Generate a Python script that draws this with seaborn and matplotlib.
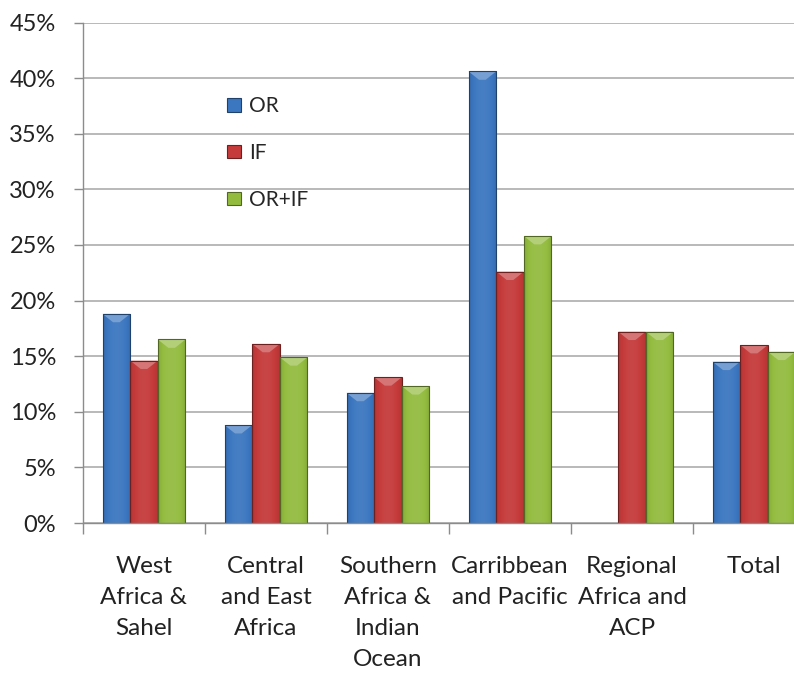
import numpy as np
import pandas as pd
import matplotlib
matplotlib.use("Agg")
import matplotlib.pyplot as plt
import matplotlib.colors as mcolors
from matplotlib.patches import Polygon
import seaborn as sns

# Regions and share of each instrument (percent)
regions = [
    "West\nAfrica &\nSahel",
    "Central\nand East\nAfrica",
    "Southern\nAfrica &\nIndian\nOcean",
    "Carribbean\nand Pacific",
    "Regional\nAfrica and\nACP",
    "Total",
]
series = ["OR", "IF", "OR+IF"]
or_values = [18.8, 8.8, 11.7, 40.6, np.nan, 14.5]
if_values = [14.6, 16.1, 13.1, 22.6, 17.2, 16.0]
orif_values = [16.5, 14.9, 12.3, 25.8, 17.2, 15.4]
y_ticks = [0, 5, 10, 15, 20, 25, 30, 35, 40, 45]

colors = {"OR": "#3B76C0", "IF": "#C53A3A", "OR+IF": "#93BC3F"}

df = pd.DataFrame({
    "region": regions * 3,
    "series": [s for s in series for _ in regions],
    "value": or_values + if_values + orif_values,
})

sns.set_theme(style="white")
plt.rcParams["font.family"] = ["Lato", "DejaVu Sans"]

fig = plt.figure(figsize=(7.94, 6.73), dpi=100)
ax = fig.add_axes([83 / 794, 1 - 523 / 673, 1 - 83 / 794, (523 - 22.5) / 673])

sns.barplot(data=df, x="region", y="value", hue="series", order=regions,
            hue_order=series, palette=colors, width=0.68, saturation=1,
            edgecolor="none", linewidth=0, ax=ax, legend=True)


def shade(color, f):
    r, g, b = mcolors.to_rgb(color)
    if f >= 0:
        return (r + (1 - r) * f, g + (1 - g) * f, b + (1 - b) * f)
    return (r * (1 + f), g * (1 + f), b * (1 + f))


# Bevelled bar look: horizontal shading plus a lighter chevron on top
bars = [p for p in ax.patches if p.get_height() == p.get_height() and p.get_height() > 0
        and p.get_width() < 1]
for p in bars:
    x, w, h = p.get_x(), p.get_width(), p.get_height()
    base = p.get_facecolor()
    t = np.linspace(0, 1, 64)
    prof = 0.18 * np.sin(np.pi * t) ** 0.6 - 0.12
    grad = np.array([[(*shade(base, f), 1.0) for f in prof]])
    im = ax.imshow(grad, extent=[x, x + w, 0, h], aspect="auto",
                   zorder=p.get_zorder() + 0.1, interpolation="bicubic")
    im.set_clip_path(p)
    d = 0.75
    ax.add_patch(Polygon([[x, h], [x + w, h], [x + w * 0.62, h - d], [x + w * 0.38, h - d]],
                         closed=True, facecolor=shade(base, 0.3), edgecolor="none",
                         zorder=p.get_zorder() + 0.2))
    ax.add_patch(plt.Rectangle((x, 0), w, h, facecolor="none",
                               edgecolor=shade(base, -0.45), linewidth=0.8,
                               zorder=p.get_zorder() + 0.3))

ax.set_yticks(y_ticks)
ax.set_yticklabels([f"{v}%" for v in y_ticks], fontsize=17, color="#222222")
ax.yaxis.grid(True, color="#A6A6A6", linewidth=1.1)
ax.set_axisbelow(True)

ax.set_xticks(range(len(regions)))
ax.set_xticklabels(regions, fontsize=17.5, color="#222222", linespacing=1.6)
ax.set_xticks(np.arange(-0.5, len(regions) - 1, 1.0), minor=True)
ax.tick_params(axis="x", which="major", length=0, pad=23.5)
ax.tick_params(axis="x", which="minor", length=8, width=1, color="#8C8C8C", bottom=True)
ax.tick_params(axis="y", length=6.5, width=1, color="#8C8C8C", left=True, pad=13)
for lab in ax.get_xticklabels():
    lab.set_verticalalignment("top")
    lab.set_horizontalalignment("center")
    lab.set_multialignment("center")

# The last category sits at the right edge of the figure
ax.set_xlim(-0.5, -0.5 + 711 / 122)
ax.set_ylim(0, 45)

ax.set_xlabel("")
ax.set_ylabel("")
for side in ["top", "right"]:
    ax.spines[side].set_visible(False)
for side in ["left", "bottom"]:
    ax.spines[side].set_color("#8C8C8C")
    ax.spines[side].set_linewidth(1)

handles = [plt.Rectangle((0, 0), 1, 1, facecolor=colors[s], edgecolor=shade(colors[s], -0.45),
                         linewidth=0.8) for s in series]
ax.legend(handles, series, loc="center left", bbox_to_anchor=(0.2025, 0.739), frameon=False,
          fontsize=15, labelspacing=1.29, handlelength=0.67, handleheight=0.6,
          handletextpad=0.38, borderpad=0, borderaxespad=0)

fig.savefig("out.png", dpi=100)
